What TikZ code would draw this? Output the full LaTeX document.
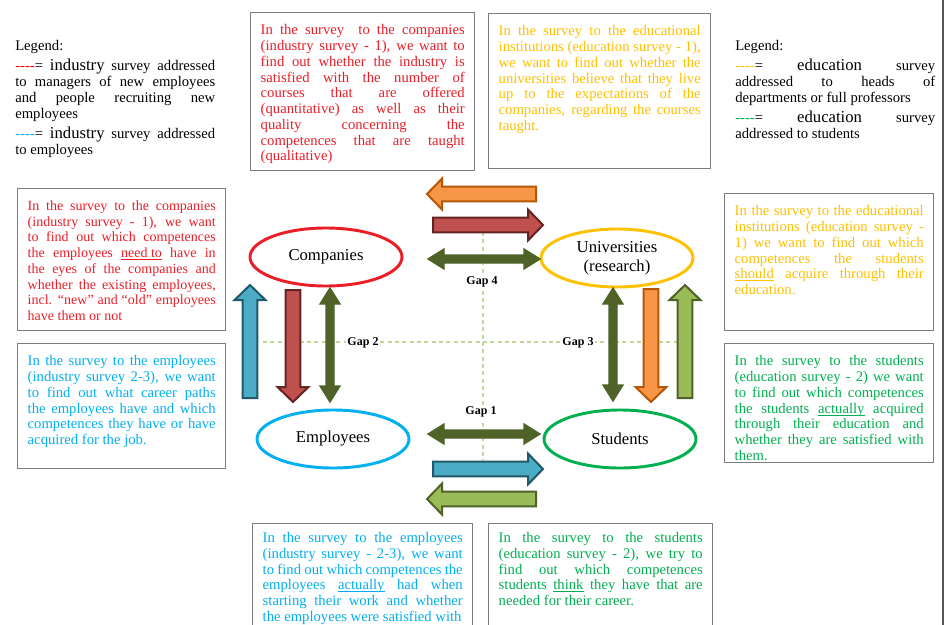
\documentclass[tikz,border=0pt]{standalone}
\usepackage{fontspec}
\setmainfont{Liberation Serif}
\usetikzlibrary{shapes.geometric,calc}

\definecolor{txtred}{RGB}{235,30,40}
\definecolor{txtyel}{RGB}{255,192,0}
\definecolor{txtblue}{RGB}{0,176,240}
\definecolor{txtgrn}{RGB}{0,176,80}
\definecolor{boxgray}{RGB}{125,125,125}
\definecolor{gapgreen}{RGB}{196,215,155}
\definecolor{orfill}{RGB}{247,150,70}
\definecolor{ordraw}{RGB}{182,87,8}
\definecolor{rdfill}{RGB}{192,80,77}
\definecolor{rddraw}{RGB}{99,37,35}
\definecolor{olive}{RGB}{79,98,40}
\definecolor{blfill}{RGB}{75,172,198}
\definecolor{bldraw}{RGB}{33,89,104}
\definecolor{lgfill}{RGB}{155,187,89}

\newcommand{\boxfont}{\fontsize{11}{11.8}\selectfont}
\newcommand{\tightfont}{\fontsize{10.5}{11.8}\selectfont}
\newcommand{\bigword}[1]{{\fontsize{12.5}{11.8}\selectfont #1}}
\newcommand{\dashkey}[1]{\textcolor{#1}{-{}-{}-{}-}=}
\newcommand{\stress}[1]{\underline{\smash{#1}}}

\tikzset{
  infobox/.style={draw=boxgray, line width=1.1pt, anchor=north west,
    inner xsep=7.5pt, inner ysep=9pt},
  legendtext/.style={anchor=north west, inner sep=0pt},
  actor/.style={ellipse, draw=#1, line width=2.2pt, minimum width=114pt,
    minimum height=43.5pt, align=center, inner sep=0pt,
    font=\fontsize{12.5}{14}\selectfont},
  gaplabel/.style={fill=white, inner sep=1pt,
    font=\fontsize{9}{10}\selectfont\bfseries},
  gapline/.style={draw=gapgreen, line width=0.8pt, dash pattern=on 3pt off 2.5pt},
  onearrow/.style={line width=1.5pt, line join=miter, to path={
    -- ($(\tikztostart)!5.6pt!90:(\tikztotarget)$)
    -- ($(\tikztotarget)!11.25pt!(\tikztostart)!5.6pt!90:(\tikztotarget)$)
    -- ($(\tikztotarget)!11.25pt!(\tikztostart)!11.6pt!90:(\tikztotarget)$)
    -- (\tikztotarget)
    -- ($(\tikztotarget)!11.25pt!(\tikztostart)!11.6pt!-90:(\tikztotarget)$)
    -- ($(\tikztotarget)!11.25pt!(\tikztostart)!5.6pt!-90:(\tikztotarget)$)
    -- ($(\tikztostart)!5.6pt!-90:(\tikztotarget)$) -- cycle}},
  twoarrow/.style={line width=1pt, line join=miter, draw=olive, fill=olive,
    to path={
    -- ($(\tikztostart)!12pt!(\tikztotarget)!7.5pt!90:(\tikztotarget)$)
    -- ($(\tikztostart)!12pt!(\tikztotarget)!3pt!90:(\tikztotarget)$)
    -- ($(\tikztotarget)!12pt!(\tikztostart)!3pt!90:(\tikztotarget)$)
    -- ($(\tikztotarget)!12pt!(\tikztostart)!7.5pt!90:(\tikztotarget)$)
    -- (\tikztotarget)
    -- ($(\tikztotarget)!12pt!(\tikztostart)!7.5pt!-90:(\tikztotarget)$)
    -- ($(\tikztotarget)!12pt!(\tikztostart)!3pt!-90:(\tikztotarget)$)
    -- ($(\tikztostart)!12pt!(\tikztotarget)!3pt!-90:(\tikztotarget)$)
    -- ($(\tikztostart)!12pt!(\tikztotarget)!7.5pt!-90:(\tikztotarget)$)
    -- cycle}}
}

\begin{document}
\begin{tikzpicture}[x=0.75pt, y=-0.75pt]

  \useasboundingbox (0,0) rectangle (951,625);
  \clip (0,0) rectangle (951,625);
  \fill[white] (0,0) rectangle (951,625);

  % --- page frame (right) ---
  \draw[boxgray!70!black, line width=1.4pt] (943,0) -- (943,625);

  % --- gap lines ---
  \coordinate (hL) at (263,342);
  \coordinate (hR) at (680,342);
  \coordinate (vT) at (483,232);
  \coordinate (vB) at (483,460);
  \draw[gapline] (hL) -- (hR);
  \draw[gapline] (vT) -- (vB);
  \node[gaplabel] (gap4) at (482,282) {Gap 4};
  \node[gaplabel] (gap2) at (363,343) {Gap 2};
  \node[gaplabel] (gap3) at (578,343) {Gap 3};
  \node[gaplabel] (gap1) at (481,412) {Gap 1};

  % --- actors ---
  \node[actor=txtred] (comp) at (326,257) {Companies};
  \node[actor=txtyel] (univ) at (617,258) {Universities\\(research)};
  \node[actor=txtblue] (empl) at (333,439) {Employees};
  \node[actor=txtgrn] (stud) at (620,439) {Students};

  % --- top arrows ---
  \coordinate (orTail) at (536,194);
  \coordinate (orTip) at (427,194);
  \coordinate (rdTail) at (433,225);
  \coordinate (rdTip) at (543,225);
  \coordinate (g4a) at (428,259);
  \coordinate (g4b) at (540,259);
  \draw[onearrow, fill=orfill, draw=ordraw] (orTail) to (orTip);
  \draw[onearrow, fill=rdfill, draw=rddraw] (rdTail) to (rdTip);
  \draw[twoarrow] (g4a) to (g4b);

  % --- bottom arrows ---
  \coordinate (g1a) at (428,434);
  \coordinate (g1b) at (540,434);
  \coordinate (blTail) at (433,469);
  \coordinate (blTip) at (543,469);
  \coordinate (lgTail) at (536,499);
  \coordinate (lgTip) at (427,499);
  \draw[twoarrow] (g1a) to (g1b);
  \draw[onearrow, fill=blfill, draw=bldraw] (blTail) to (blTip);
  \draw[onearrow, fill=lgfill, draw=olive] (lgTail) to (lgTip);

  % --- left arrows ---
  \coordinate (vblTail) at (250,398);
  \coordinate (vblTip) at (250,285);
  \coordinate (vrdTail) at (293,290);
  \coordinate (vrdTip) at (293,402);
  \coordinate (g2a) at (330,288);
  \coordinate (g2b) at (330,402);
  \draw[onearrow, fill=blfill, draw=bldraw] (vblTail) to (vblTip);
  \draw[onearrow, fill=rdfill, draw=rddraw] (vrdTail) to (vrdTip);
  \draw[twoarrow] (g2a) to (g2b);

  % --- right arrows ---
  \coordinate (g3a) at (613,288);
  \coordinate (g3b) at (613,401);
  \coordinate (vorTail) at (651,289);
  \coordinate (vorTip) at (651,402);
  \coordinate (vlgTail) at (685,398);
  \coordinate (vlgTip) at (685,285);
  \draw[twoarrow] (g3a) to (g3b);
  \draw[onearrow, fill=orfill, draw=ordraw] (vorTail) to (vorTip);
  \draw[onearrow, fill=lgfill, draw=olive] (vlgTail) to (vlgTip);

  % --- legends ---
  \node[legendtext] (legleft) at (15,40) {\parbox[t]{150pt}{\boxfont
    \setlength{\parskip}{3.5pt}%
    Legend:\par
    \dashkey{red} \bigword{industry} survey addressed\linebreak
    to managers of new employees\linebreak
    and people recruiting new\linebreak
    employees\par
    \dashkey{txtblue} \bigword{industry} survey addressed\linebreak
    to employees}};
  \node[legendtext] (legright) at (735,40) {\parbox[t]{150pt}{\boxfont
    \setlength{\parskip}{3.5pt}%
    Legend:\par
    \dashkey{txtyel} \bigword{education} survey\linebreak
    addressed to heads of\linebreak
    departments or full professors\par
    \dashkey{txtgrn} \bigword{education} survey\linebreak
    addressed to students}};

  % --- top boxes ---
  \node[infobox] (topred) at (250,12) {\parbox[t][100.5pt][t]{153pt}{\boxfont
    \color{txtred}%
    In the survey\ \ to the companies\linebreak
    (industry survey - 1), we want to\linebreak
    find out whether the industry is\linebreak
    satisfied with the number of\linebreak
    courses that are offered\linebreak
    (quantitative) as well as their\linebreak
    quality concerning the\linebreak
    competences that are taught\linebreak
    (qualitative)}};
  \node[infobox] (topyel) at (488,13) {\parbox[t][98.25pt][t]{151.5pt}{\boxfont
    \color{txtyel}%
    In the survey to the educational\linebreak
    institutions (education survey - 1),\linebreak
    we want to find out whether the\linebreak
    universities believe that they live\linebreak
    up to the expectations of the\linebreak
    companies, regarding the courses\linebreak
    taught.}};

  % --- left boxes ---
  \node[infobox] (leftred) at (17,188) {\parbox[t][88.5pt][t]{141pt}{\tightfont
    \color{txtred}%
    In the survey to the companies\linebreak
    (industry survey - 1), we want\linebreak
    to find out which competences\linebreak
    the employees \stress{need to} have in\linebreak
    the eyes of the companies and\linebreak
    whether the existing employees,\linebreak
    incl. “new” and “old” employees\linebreak
    have them or not}};
  \node[infobox] (leftblue) at (17,343) {\parbox[t][75.75pt][t]{141pt}{\boxfont
    \color{txtblue}%
    In the survey to the employees\linebreak
    (industry survey 2-3), we want\linebreak
    to find out what career paths\linebreak
    the employees have and which\linebreak
    competences they have or have\linebreak
    acquired for the job.}};

  % --- right boxes ---
  \node[infobox] (rightyel) at (724,193) {\parbox[t][84.75pt][t]{141.75pt}{\boxfont
    \color{txtyel}%
    In the survey to the educational\linebreak
    institutions (education survey -\linebreak
    1) we want to find out which\linebreak
    competences the students\linebreak
    \stress{should} acquire through their\linebreak
    education.}};
  \node[infobox] (rightgrn) at (724,343) {\parbox[t][71.25pt][t]{141.75pt}{\boxfont
    \color{txtgrn}%
    In the survey to the students\linebreak
    (education survey - 2) we want\linebreak
    to find out which competences\linebreak
    the students \stress{actually} acquired\linebreak
    through their education and\linebreak
    whether they are satisfied with\linebreak
    them.}};

  % --- bottom boxes ---
  \node[infobox, inner ysep=6.5pt] (botblue) at (252,523) {\parbox[t][69.75pt][t]{150pt}{\boxfont
    \color{txtblue}%
    In the survey to the employees\linebreak
    (industry survey - 2-3), we want\linebreak
    to find out which competences the\linebreak
    employees \stress{actually} had when\linebreak
    starting their work and whether\linebreak
    the employees were satisfied with}};
  \node[infobox, inner ysep=6.5pt] (botgrn) at (488,523) {\parbox[t][69.75pt][t]{153pt}{\boxfont
    \color{txtgrn}%
    In the survey to the students\linebreak
    (education survey - 2), we try to\linebreak
    find out which competences\linebreak
    students \stress{think} they have that are\linebreak
    needed for their career.}};

\end{tikzpicture}
\end{document}
